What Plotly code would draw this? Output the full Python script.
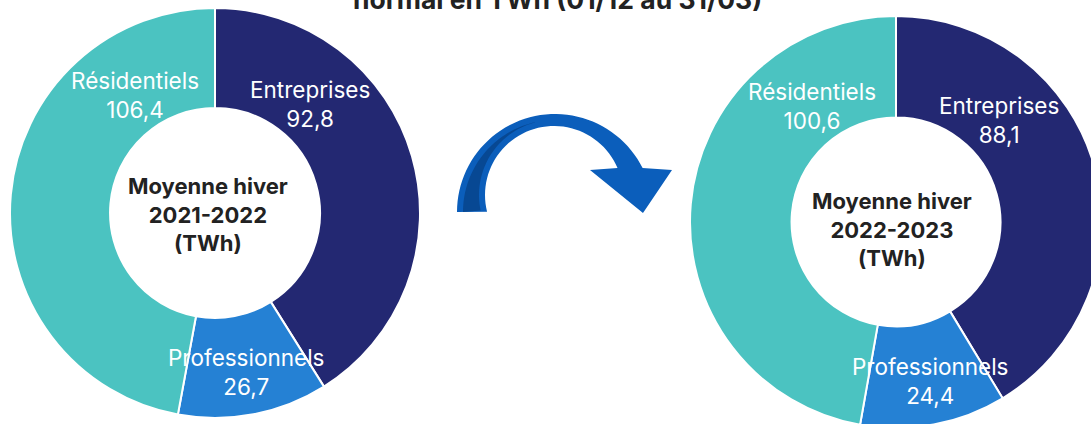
import numpy as np
import plotly.graph_objects as go

# figure is slightly larger than the 1091x424 window: the right donut is cut at the
# window edge in the reference, so the page hides the overflow.
W, H = 1102, 428

# ---- data ----
categories = ["Entreprises", "Professionnels", "Résidentiels"]
values_2021_2022 = [92.8, 26.7, 106.4]
values_2022_2023 = [88.1, 24.4, 100.6]
center_2021_2022 = ["Moyenne hiver", "2021-2022", "(TWh)"]
center_2022_2023 = ["Moyenne hiver", "2022-2023", "(TWh)"]
title_line = "normal en TWh (01/12 au 31/03)"

# ---- styles ----
colors = ["#232872", "#2581D4", "#4BC3C1"]
FONT = "Inter"
ARROW_BLUE = "#0B5EBB"
ARROW_DARK = "#074893"


def px(x):
    return x / W


def py(y):
    return 1 - y / H


def fmt(v):
    return f"{v:.1f}".replace(".", ",")


fig = go.Figure()

# pies: (values, centre x, centre y, radius, hole, label anchors, centre text anchor, centre lines)
pies = [
    (values_2021_2022, 215, 213, 205, 0.512,
     {"Entreprises": (310, 104), "Professionnels": (246, 372), "Résidentiels": (135, 95)},
     (208, 214), center_2021_2022),
    (values_2022_2023, 896, 222, 206, 0.507,
     {"Entreprises": (999, 120), "Professionnels": (930, 381), "Résidentiels": (812, 106)},
     (892, 229), center_2022_2023),
]

annotations = []
for vals, cx, cy, r, hole, anchors, (tx, ty), ctext in pies:
    fig.add_trace(go.Pie(
        labels=categories, values=vals, sort=False, direction="clockwise",
        rotation=0, hole=hole,
        marker=dict(colors=colors, line=dict(color="white", width=2)),
        textinfo="none", showlegend=False,
        hovertemplate="%{label}: %{value} TWh<extra></extra>",
        domain=dict(x=[px(cx - r), px(cx + r)], y=[py(cy + r), py(cy - r)]),
    ))
    for cat, v in zip(categories, vals):
        ax, ay = anchors[cat]
        annotations.append(dict(
            x=px(ax), y=py(ay), xref="paper", yref="paper",
            text=f"{cat}<br>{fmt(v)}", showarrow=False,
            xanchor="center", yanchor="middle",
            font=dict(family=FONT, size=22.5, color="white"),
        ))
    annotations.append(dict(
        x=px(tx), y=py(ty), xref="paper", yref="paper",
        text="<br>".join(ctext), showarrow=False,
        xanchor="center", yanchor="middle",
        font=dict(family=FONT, size=22, color="#222222", weight="bold"),
    ))

# partially visible title line at the top
annotations.append(dict(
    x=px(557), y=py(17), xref="paper", yref="paper",
    text=title_line, showarrow=False, xanchor="center", yanchor="bottom",
    font=dict(family=FONT, size=26.5, color="#222222", weight="bold"),
))


# ---- curved arrow (decoration) ----
def arc(cx, cy, r, t0, t1, n=50):
    t = np.radians(np.linspace(t0, t1, n))
    return list(zip(cx + r * np.cos(t), cy - r * np.sin(t)))


def path_of(points):
    return "M " + " L ".join(f"{px(x):.5f},{py(y):.5f}" for x, y in points) + " Z"


arrow_pts = (
    arc(555, 212, 98, 180, 26.6)
    + [(672, 170), (643, 213), (590, 170)]
    + arc(554, 195, 69, 23, 194)
    + [(457, 212)]
)
dark_pts = arc(555, 212, 92, 180, 102.5) + arc(554, 195, 75, 104.6, 192)

shapes = [
    dict(type="path", xref="paper", yref="paper", path=path_of(arrow_pts),
         fillcolor=ARROW_BLUE, line=dict(width=0)),
    dict(type="path", xref="paper", yref="paper", path=path_of(dark_pts),
         fillcolor=ARROW_DARK, line=dict(width=0)),
]

fig.update_layout(
    width=W, height=H,
    margin=dict(l=0, r=0, t=0, b=0),
    paper_bgcolor="white", plot_bgcolor="white",
    annotations=annotations, shapes=shapes,
    font=dict(family=FONT),
)

page_css = (
    "document.documentElement.style.margin='0';"
    "document.documentElement.style.overflow='hidden';"
    "document.body.style.margin='0';"
    "document.body.style.overflow='hidden';"
)
fig.write_html("out.html", post_script=page_css,
               config={"displayModeBar": False})
